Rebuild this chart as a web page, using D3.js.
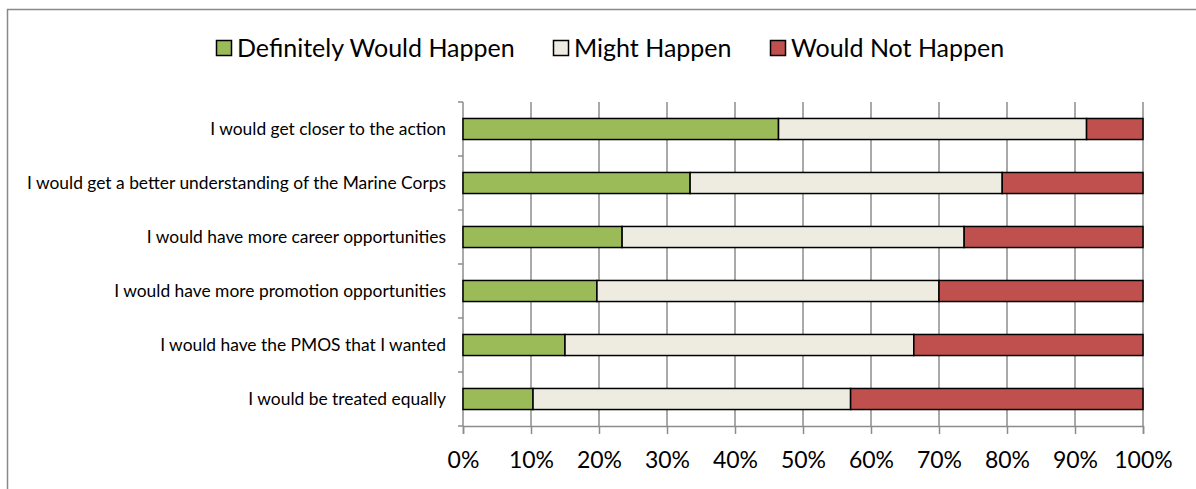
<!DOCTYPE html>
<html>
<head>
<meta charset="utf-8">
<script src="https://cdn.jsdelivr.net/npm/d3@7"></script>
<style>
  body { margin: 0; background: #fff; }
  text { font-family: Lato, "Open Sans", sans-serif; fill: #000; }
</style>
</head>
<body>
<script>
const categories = [
    "I would get closer to the action",
    "I would get a better understanding of the Marine Corps",
    "I would have more career opportunities",
    "I would have more promotion opportunities",
    "I would have the PMOS that I wanted",
    "I would be treated equally"
];
const seriesNames = ["Definitely Would Happen", "Might Happen", "Would Not Happen"];
const definitely = [46.4, 33.4, 23.4, 19.7, 15.0, 10.3];
const might      = [45.3, 45.9, 50.3, 50.3, 51.3, 46.7];
const wouldNot   = [8.3, 20.7, 26.3, 30.0, 33.7, 43.0];
const xTicks = [0, 10, 20, 30, 40, 50, 60, 70, 80, 90, 100];

const colors = ["#9BBB59", "#EEECE1", "#C0504D"];

const W = 1196, H = 489;
const margin = {top: 102, right: 53, bottom: 63, left: 463},
    width  = W - margin.left - margin.right,
    height = H - margin.top - margin.bottom;

const svg = d3.select("body").append("svg")
    .attr("width", W)
    .attr("height", H);

// chart frame
svg.append("rect")
    .attr("x", 7.5).attr("y", 9.5)
    .attr("width", 1300).attr("height", 600)
    .attr("fill", "none")
    .attr("stroke", "#898989")
    .attr("stroke-width", 1.5);

const g = svg.append("g")
    .attr("transform", `translate(${margin.left},${margin.top})`);

const x = d3.scaleLinear().domain([0, 100]).range([0, width]);
const y = d3.scaleBand().domain(categories).range([0, height])
    .paddingInner(0.61).paddingOuter(0.305);

// gridlines
g.selectAll(".grid")
    .data(xTicks.slice(1))
    .enter().append("line")
    .attr("class", "grid")
    .attr("x1", d => x(d)).attr("x2", d => x(d))
    .attr("y1", 0).attr("y2", height)
    .attr("stroke", "#8c8c8c")
    .attr("stroke-width", 1.5);

// x axis
const xAxis = g.append("g")
    .attr("transform", `translate(0,${height})`)
    .call(d3.axisBottom(x).tickValues(xTicks).tickSize(8).tickPadding(18)
        .tickFormat(d => d + "%"));
xAxis.select(".domain").attr("stroke", "#8c8c8c").attr("stroke-width", 1.5);
xAxis.selectAll(".tick line").attr("stroke", "#8c8c8c").attr("stroke-width", 1.5);
xAxis.selectAll("text")
    .style("font-family", "Lato, sans-serif")
    .style("font-size", "23px")
    .attr("fill", "#000");

// y axis: line plus ticks at category boundaries
g.append("line")
    .attr("x1", 0).attr("x2", 0).attr("y1", 0).attr("y2", height)
    .attr("stroke", "#8c8c8c").attr("stroke-width", 1.5);
g.selectAll(".ytick")
    .data(d3.range(categories.length + 1))
    .enter().append("line")
    .attr("x1", -5).attr("x2", 0)
    .attr("y1", i => i * y.step()).attr("y2", i => i * y.step())
    .attr("stroke", "#8c8c8c").attr("stroke-width", 1.5);

g.selectAll(".ylabel")
    .data(categories)
    .enter().append("text")
    .attr("x", -17)
    .attr("y", d => y(d) + y.bandwidth() / 2)
    .attr("dy", "0.35em")
    .attr("text-anchor", "end")
    .style("font-size", "17.4px")
    .text(d => d);

// stacked bars
const rows = categories.map((c, i) => ({
    cat: c, values: [definitely[i], might[i], wouldNot[i]]
}));
rows.forEach(r => {
    let acc = 0;
    r.values.forEach((v, k) => {
        g.append("rect")
            .attr("x", x(acc))
            .attr("y", y(r.cat))
            .attr("width", x(acc + v) - x(acc))
            .attr("height", y.bandwidth())
            .attr("fill", colors[k])
            .attr("stroke", "#000")
            .attr("stroke-width", 1.5);
        acc += v;
    });
});

// legend
const legendX = [216, 553, 770];
const legend = svg.append("g");
seriesNames.forEach((name, k) => {
    legend.append("rect")
        .attr("x", legendX[k] + 0.5).attr("y", 40.5)
        .attr("width", 15).attr("height", 15)
        .attr("fill", colors[k])
        .attr("stroke", "#000").attr("stroke-width", 1.5);
    legend.append("text")
        .attr("x", legendX[k] + 21)
        .attr("y", 48)
        .attr("dy", "0.35em")
        .style("font-size", "25px")
        .text(name);
});
</script>
</body>
</html>
